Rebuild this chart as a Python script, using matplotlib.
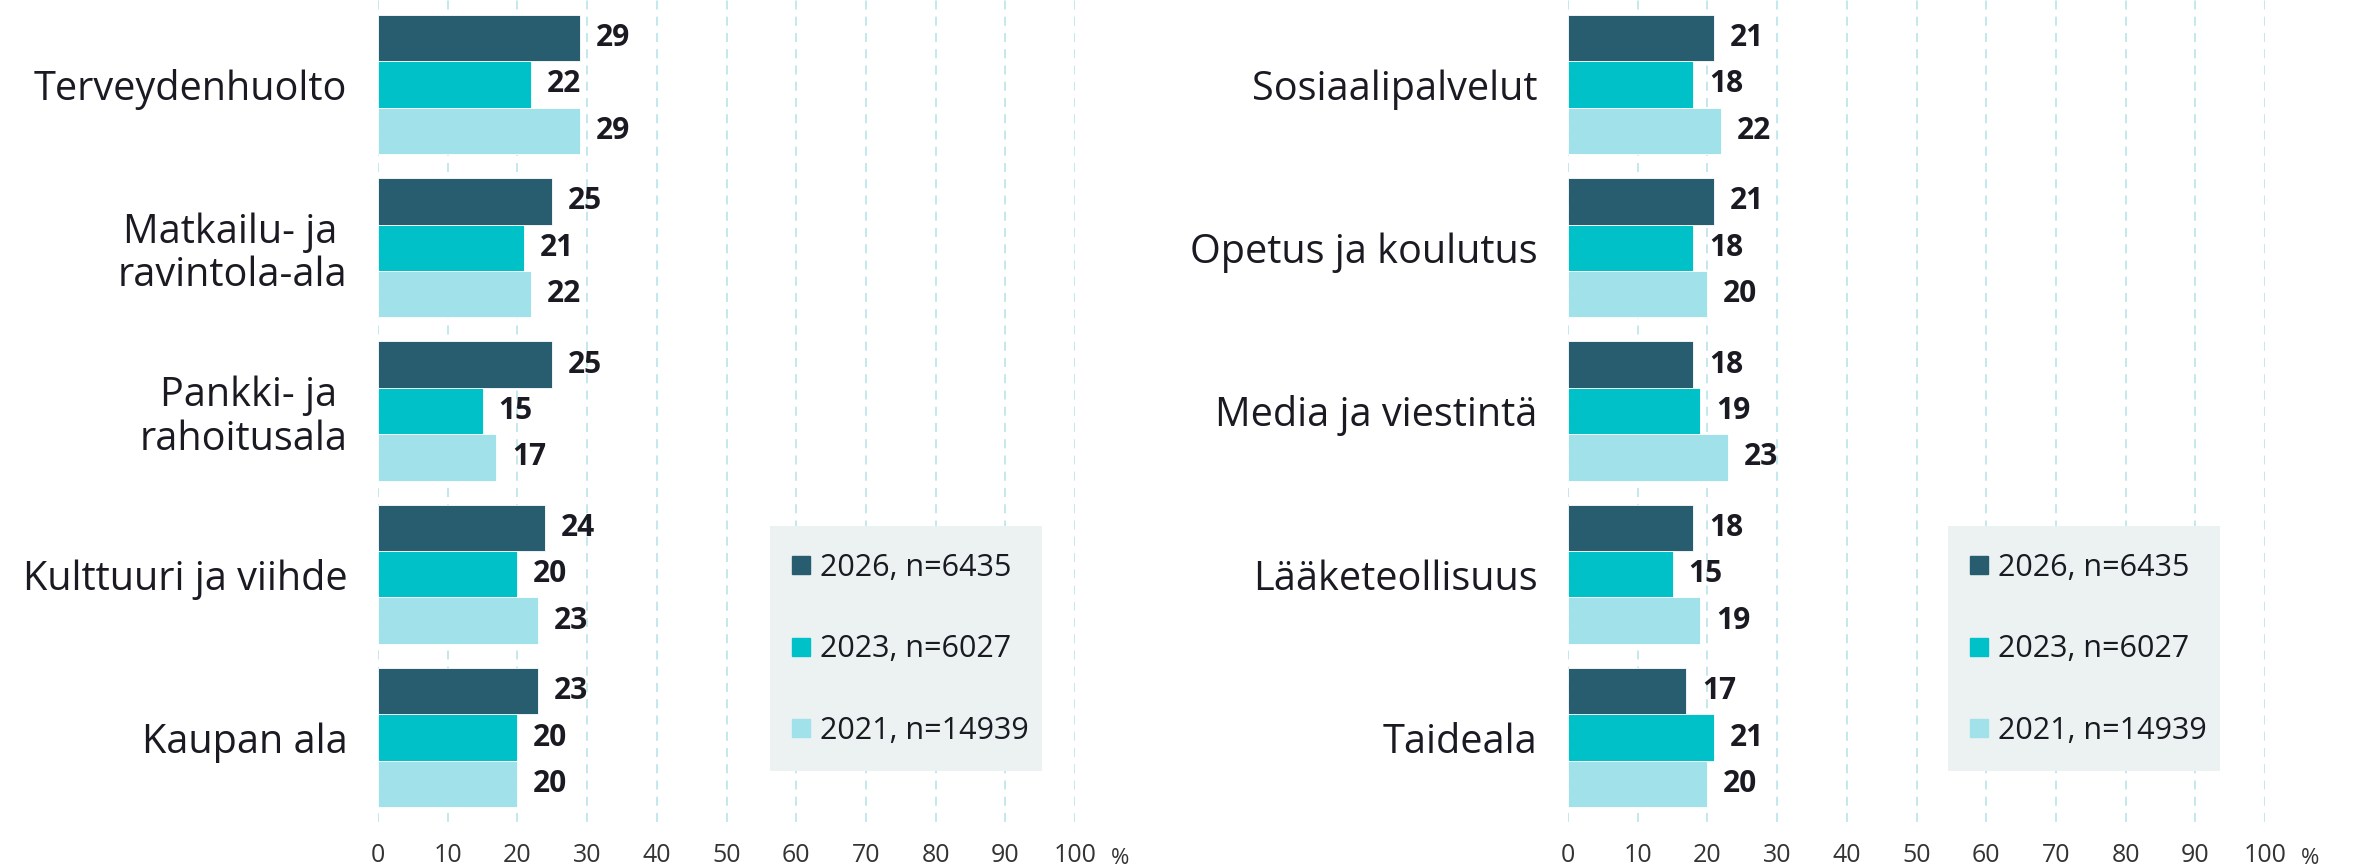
import numpy as np
import matplotlib.pyplot as plt
from matplotlib.lines import Line2D
from matplotlib.patches import Rectangle

plt.rcParams['font.family'] = ['Open Sans', 'DejaVu Sans']

#data (percent)
leftCats = ['Terveydenhuolto', 'Matkailu- ja \nravintola-ala', 'Pankki- ja \nrahoitusala',
            'Kulttuuri ja viihde', 'Kaupan ala']
left2026 = [29, 25, 25, 24, 23]
left2023 = [22, 21, 15, 20, 20]
left2021 = [29, 22, 17, 23, 20]

rightCats = ['Sosiaalipalvelut', 'Opetus ja koulutus', 'Media ja viestintä',
             'Lääketeollisuus', 'Taideala']
right2026 = [21, 21, 18, 18, 17]
right2023 = [18, 18, 19, 15, 21]
right2021 = [22, 20, 23, 19, 20]

seriesNames = ['2026, n=6435', '2023, n=6027', '2021, n=14939']
colors = ['#285d70', '#00c1c8', '#a0e1ea']
xTicks = list(range(0, 101, 10))

W, H = 2354, 868
fig = plt.figure(figsize=(W / 100, H / 100), dpi=100)

pitch = 3.52
axBottom = 1 - 822 / H
axW = 697

def drawPanel(leftPx, legendPx, cats, seriesList):
    ax = fig.add_axes([leftPx / W, axBottom, axW / W, 1 - axBottom])
    centers = np.arange(len(cats)) * pitch
    for k, vals in enumerate(seriesList):
        ys = centers + (k - 1)
        ax.barh(ys, vals, height=1.0, color=colors[k], edgecolor='white', linewidth=0.6, zorder=3)
        for y, v in zip(ys, vals):
            ax.text(v + 2.2, y, f'{v}', va='center', ha='left', fontsize=21.5,
                    fontweight='bold', color='#1a1a22', zorder=4)
    ax.set_ylim(centers[-1] + 1.5 + 0.32, -1.5 - 0.32)
    ax.set_xlim(0, 100)
    ax.set_yticks(centers)
    ax.set_yticklabels(cats, fontsize=28.5, color='#1a1a22', ha='right', multialignment='right',
                       linespacing=1.1)
    ax.set_xticks(xTicks)
    ax.set_xticklabels([str(t) for t in xTicks], fontsize=18, color='#333333')
    ax.tick_params(axis='both', length=0)
    ax.tick_params(axis='x', pad=15)
    ax.tick_params(axis='y', pad=22)
    for s in ax.spines.values():
        s.set_visible(False)
    ax.grid(axis='x', color='#bfe6ec', linestyle=(0, (5, 4)), linewidth=1.3, zorder=0)
    ax.set_axisbelow(True)
    ax.text(106.5, -0.045, '%', transform=ax.get_xaxis_transform(), fontsize=16,
            color='#333333', ha='center', va='center')

    #legend background box drawn by hand so its size matches
    boxX = (legendPx - leftPx) / axW
    ax.add_patch(Rectangle((boxX, 1 - 771 / 822), 272 / axW, 245 / 822,
                           transform=ax.transAxes, facecolor='#ecf2f2', edgecolor='none',
                           zorder=5))
    handles = [Line2D([], [], marker='s', linestyle='none', markersize=13,
                      markerfacecolor=c, markeredgecolor=c) for c in colors]
    leg = ax.legend(handles, seriesNames, loc='upper left',
                    bbox_to_anchor=((legendPx + 22 - leftPx) / axW, 1 - 553 / 822),
                    fontsize=22, frameon=False, borderpad=0,
                    labelspacing=1.68, handlelength=0.6, handletextpad=0.3,
                    borderaxespad=0)
    leg.set_zorder(6)
    for t in leg.get_texts():
        t.set_color('#1a1a22')
    return ax

drawPanel(378, 770, leftCats, [left2026, left2023, left2021])
drawPanel(1568, 1948, rightCats, [right2026, right2023, right2021])

fig.savefig('out.png', dpi=100)
